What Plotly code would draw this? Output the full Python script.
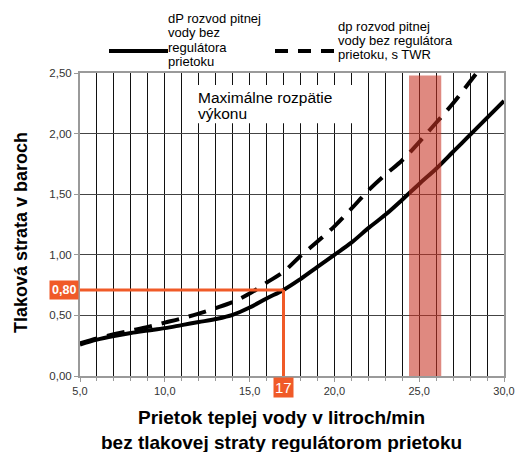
import plotly.graph_objects as go

# ---- data ----
flow = [5, 6, 7, 8, 9, 10, 11, 12, 13, 14, 15, 16, 17, 18, 19, 20, 21, 22, 23, 24, 25, 26, 27, 28, 29, 30]
dp_no_regulator = [0.26, 0.30, 0.33, 0.355, 0.375, 0.395, 0.42, 0.445, 0.47, 0.505, 0.565, 0.64, 0.71,
                   0.80, 0.90, 1.00, 1.10, 1.22, 1.33, 1.455, 1.585, 1.71, 1.85, 1.99, 2.13, 2.27]
flow_twr = [5, 6, 7, 8, 9, 10, 11, 12, 13, 14, 15, 16, 17, 18, 19, 20, 21, 22, 23, 24, 25, 26, 27, 28, 28.5]
dp_twr = [0.27, 0.31, 0.345, 0.375, 0.405, 0.44, 0.475, 0.515, 0.56, 0.61, 0.68, 0.77, 0.86,
          0.99, 1.11, 1.235, 1.38, 1.53, 1.66, 1.78, 1.93, 2.09, 2.25, 2.43, 2.52]

legend_solid_lines = ["dP rozvod pitnej", "vody bez", "regulátora", "prietoku"]
legend_dash_lines = ["dp rozvod pitnej", "vody bez regulátora", "prietoku, s TWR"]

x_ticks = [5, 10, 15, 20, 25, 30]
y_ticks = [0, 0.5, 1.0, 1.5, 2.0, 2.5]

band_range = [24.4, 26.3]          # Maximálne rozpätie výkonu
band_top = 2.48
marker_flow = 17
marker_loss = 0.71
marker_loss_label = "0,80"
marker_flow_label = "17"
range_label_lines = ["Maximálne rozpätie", "výkonu"]
range_box_x = [11.25, 21.5]
range_box_y = [2.085, 2.40]

x_title = "Prietok teplej vody v litroch/min<br>bez tlakovej straty regulátorom prietoku"
y_title = "Tlaková strata v baroch"

ORANGE = "#F05A28"
FONT = "Liberation Sans, Arial, sans-serif"

# layout geometry helpers (pixel -> paper)
W, H = 515, 452
L, R, T, B = 80, 11, 73, 76
PW, PH = W - L - R, H - T - B


def px(xp):
    return (xp - L) / PW


def py(yp):
    return (H - B - yp) / PH


fig = go.Figure()

fig.add_trace(go.Scatter(x=flow, y=dp_no_regulator, mode="lines", name="solid",
                         line=dict(color="black", width=4, shape="spline", smoothing=1.0), showlegend=False))
fig.add_trace(go.Scatter(x=flow_twr, y=dp_twr, mode="lines", name="twr",
                         line=dict(color="black", width=4, dash="18px,10px", shape="spline"),
                         showlegend=False))

shapes = []
# orange guide lines
shapes.append(dict(type="line", xref="x", yref="y", x0=5, x1=marker_flow, y0=marker_loss, y1=marker_loss,
                   line=dict(color=ORANGE, width=3), layer="above"))
shapes.append(dict(type="line", xref="x", yref="y", x0=marker_flow, x1=marker_flow, y0=0, y1=marker_loss,
                   line=dict(color=ORANGE, width=3), layer="above"))
# red band
shapes.append(dict(type="rect", xref="x", yref="y", x0=band_range[0], x1=band_range[1], y0=0, y1=band_top,
                   fillcolor="rgba(200,52,36,0.58)", line=dict(width=0), layer="above"))
# white box behind label
shapes.append(dict(type="rect", xref="x", yref="y", x0=range_box_x[0], x1=range_box_x[1],
                   y0=range_box_y[0], y1=range_box_y[1], fillcolor="white", line=dict(width=0), layer="above"))
# legend samples
shapes.append(dict(type="line", xref="paper", yref="paper", x0=px(109), x1=px(168), y0=py(51), y1=py(51),
                   line=dict(color="black", width=4)))
shapes.append(dict(type="line", xref="paper", yref="paper", x0=px(275), x1=px(334), y0=py(51), y1=py(51),
                   line=dict(color="black", width=4, dash="13px,10px")))

annotations = []


def add_lines(lines, x_left, first_center, spacing, size):
    for i, t in enumerate(lines):
        annotations.append(dict(text=t, xref="paper", yref="paper", x=px(x_left),
                                y=py(first_center + i * spacing), xanchor="left", yanchor="middle",
                                align="left", showarrow=False, borderpad=0,
                                font=dict(family=FONT, size=size, color="black")))


add_lines(legend_solid_lines, 167, 18.8, 14.1, 13)
add_lines(legend_dash_lines, 337, 26.2, 14.0, 13)
add_lines(range_label_lines, 197, 97.5, 15.5, 15.5)

annotations += [
    dict(text="<b>" + marker_loss_label + "</b>", xref="paper", yref="y", x=px(79), y=marker_loss,
         xanchor="right", yanchor="middle", showarrow=False, bgcolor=ORANGE, borderpad=2,
         font=dict(family=FONT, size=12.5, color="white")),
    dict(text=marker_flow_label, xref="x", yref="paper", x=marker_flow, y=py(377), xanchor="center",
         yanchor="top", showarrow=False, bgcolor=ORANGE, borderpad=1,
         font=dict(family=FONT, size=15, color="white")),
    dict(text="<b>" + x_title + "</b>", xref="paper", yref="paper", x=px(281), y=py(429.5),
         xanchor="center", yanchor="middle", showarrow=False,
         font=dict(family=FONT, size=19, color="black")),
    dict(text="<b>" + y_title + "</b>", xref="paper", yref="paper", x=px(21), y=py(233),
         xanchor="center", yanchor="middle", textangle=-90, showarrow=False,
         font=dict(family=FONT, size=18, color="black")),
]

fig.update_layout(
    width=W, height=H,
    margin=dict(l=L, r=R, t=T, b=B, autoexpand=False),
    paper_bgcolor="white", plot_bgcolor="white",
    separators=",.",
    font=dict(family=FONT, size=11, color="#333"),
    shapes=shapes, annotations=annotations,
    showlegend=False,
)

fig.update_xaxes(range=[5, 30], tickvals=x_ticks, tickformat=".1f", automargin=False,
                 showgrid=True, gridcolor="#111", gridwidth=1,
                 minor=dict(dtick=1, tick0=5, showgrid=True, gridcolor="#111", gridwidth=1,
                            ticks="outside", ticklen=3, tickcolor="#999"),
                 showline=True, linecolor="#9a9a9a", linewidth=2, mirror=True,
                 ticks="outside", ticklen=4, tickcolor="#999",
                 tickfont=dict(family=FONT, size=11, color="#333"), zeroline=False, fixedrange=True)
fig.update_yaxes(range=[0, 2.5], tickvals=y_ticks, tickformat=".2f", automargin=False,
                 showgrid=True, gridcolor="#444", gridwidth=1,
                 showline=True, linecolor="#9a9a9a", linewidth=2, mirror=True,
                 ticks="outside", ticklen=4, tickcolor="#999",
                 tickfont=dict(family=FONT, size=11.5, color="#333"), zeroline=False, fixedrange=True)

fig.write_html("out.html", config={"displayModeBar": False, "responsive": False},
               post_script="document.body.style.margin='0';document.body.style.overflow='hidden';")
